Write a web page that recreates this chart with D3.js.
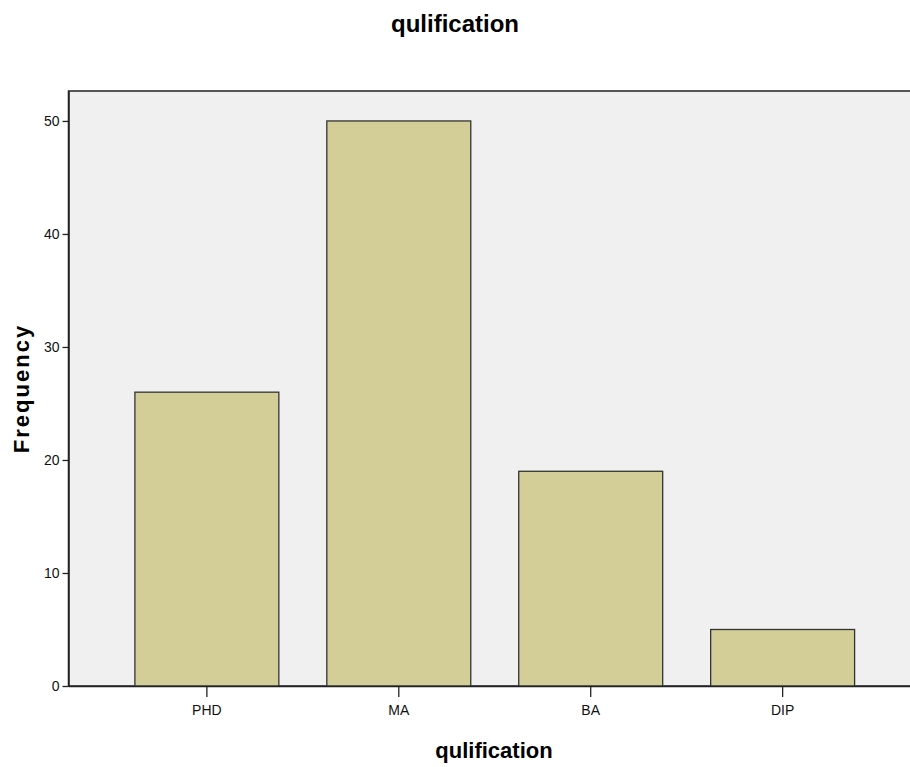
<!DOCTYPE html>
<html><head><meta charset="utf-8">
<script src="https://cdn.jsdelivr.net/npm/d3@7"></script>
<style>body{margin:0;background:#fff}svg{display:block}text{font-family:Arial,"Liberation Sans",sans-serif}</style>
</head><body>
<svg id="c" width="910" height="767"></svg>
<script>
const categories = ["PHD","MA","BA","DIP"];
const frequencies = [26,50,19,5];
const yTicks = [0,10,20,30,40,50];
const chartTitle = "qulification";
const xTitle = "qulification";
const yTitle = "Frequency";

const svg = d3.select("#c");
const L = 68.5, R = 921, T = 91, B = 686;
const x = d3.scaleBand().domain(categories).range([L, R]).paddingInner(0.25).paddingOuter(0.346);
const y = d3.scaleLinear().domain([0, 52.65]).range([B, T]);

svg.append("rect").attr("x", L).attr("y", T).attr("width", R - L).attr("height", B - T)
  .attr("fill", "#f0f0f0").attr("stroke", "#222").attr("stroke-width", 1.5);

svg.selectAll(".bar").data(categories).enter().append("rect")
  .attr("x", d => x(d)).attr("width", x.bandwidth())
  .attr("y", (d,i) => y(frequencies[i])).attr("height", (d,i) => B - y(frequencies[i]))
  .attr("fill", "#d3ce98").attr("stroke", "#333").attr("stroke-width", 1.3);

const yAxis = svg.append("g").attr("transform", `translate(${L},0)`)
  .call(d3.axisLeft(y).tickValues(yTicks).tickSize(6).tickSizeOuter(0).tickPadding(3));
yAxis.select(".domain").attr("stroke", "#222").attr("stroke-width", 1.5);
yAxis.selectAll("line").attr("stroke", "#222").attr("stroke-width", 1.3);
yAxis.selectAll("text").attr("font-size", 14).attr("fill", "#111");

const xAxis = svg.append("g").attr("transform", `translate(0,${B})`)
  .call(d3.axisBottom(x).tickSize(11).tickSizeOuter(0).tickPadding(8));
xAxis.select(".domain").attr("stroke", "#222").attr("stroke-width", 1.5);
xAxis.selectAll("line").attr("stroke", "#222").attr("stroke-width", 1.3);
xAxis.selectAll("text").attr("font-size", 14).attr("fill", "#111");

svg.append("text").attr("x", 455).attr("y", 32).attr("text-anchor", "middle")
  .attr("font-size", 24).attr("font-weight", "bold").attr("fill", "#000").text(chartTitle);
svg.append("text").attr("x", 494).attr("y", 758).attr("text-anchor", "middle")
  .attr("font-size", 22).attr("font-weight", "bold").attr("fill", "#000").text(xTitle);
svg.append("text").attr("transform", `translate(29,${(T + B) / 2}) rotate(-90)`)
  .attr("text-anchor", "middle").attr("font-size", 22).attr("letter-spacing", 2)
  .attr("font-weight", "bold").attr("fill", "#000").text(yTitle);
</script>
</body></html>
